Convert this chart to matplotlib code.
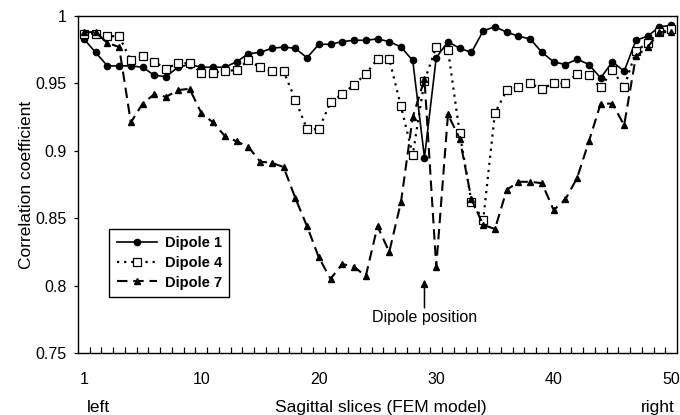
import numpy as np
import matplotlib

matplotlib.use("Agg")
import matplotlib.pyplot as plt

plt.rcParams["font.family"] = ["Liberation Sans", "DejaVu Sans"]

# slice index (51 sagittal slices, first labelled "1")
SLICES = list(range(51))

DIPOLE_1 = [0.983, 0.973, 0.963, 0.963, 0.963, 0.962, 0.956, 0.955, 0.962, 0.964,
            0.962, 0.962, 0.962, 0.966, 0.972, 0.973, 0.976, 0.977, 0.976, 0.969,
            0.979, 0.979, 0.981, 0.982, 0.982, 0.983, 0.981, 0.977, 0.967, 0.895,
            0.969, 0.981, 0.976, 0.973, 0.989, 0.992, 0.988, 0.985, 0.983, 0.973,
            0.966, 0.964, 0.968, 0.964, 0.954, 0.966, 0.959, 0.982, 0.985, 0.992,
            0.993]

DIPOLE_4 = [0.987, 0.987, 0.985, 0.985, 0.967, 0.970, 0.966, 0.961, 0.965, 0.965,
            0.958, 0.958, 0.959, 0.960, 0.967, 0.962, 0.959, 0.959, 0.938, 0.916,
            0.916, 0.936, 0.942, 0.949, 0.957, 0.968, 0.968, 0.933, 0.897, 0.952,
            0.977, 0.975, 0.913, 0.862, 0.849, 0.928, 0.945, 0.947, 0.950, 0.946,
            0.950, 0.950, 0.957, 0.956, 0.947, 0.960, 0.947, 0.974, 0.980, 0.988,
            0.990]

DIPOLE_7 = [0.988, 0.988, 0.980, 0.977, 0.921, 0.935, 0.942, 0.940, 0.945, 0.946,
            0.928, 0.921, 0.911, 0.907, 0.903, 0.892, 0.891, 0.888, 0.865, 0.844,
            0.821, 0.805, 0.816, 0.814, 0.807, 0.844, 0.825, 0.862, 0.925, 0.953,
            0.814, 0.927, 0.909, 0.864, 0.845, 0.842, 0.871, 0.877, 0.877, 0.876,
            0.856, 0.864, 0.880, 0.907, 0.935, 0.935, 0.919, 0.970, 0.977, 0.988,
            0.988]

X_TICKS = [0, 10, 20, 30, 40, 50]
X_TICK_LABELS = ["1", "10", "20", "30", "40", "50"]
Y_TICKS = [0.75, 0.8, 0.85, 0.9, 0.95, 1.0]
Y_TICK_LABELS = ["0.75", "0.8", "0.85", "0.9", "0.95", "1"]
DIPOLE_SLICE = 29

W, H = 680, 415
fig = plt.figure(figsize=(W / 100, H / 100), dpi=100)
ax = fig.add_axes([78 / W, 1 - 353 / H, (677 - 78) / W, (353 - 16) / H])

ax.plot(SLICES, DIPOLE_1, color="black", lw=1.2, marker="o", ms=4.5,
        label="Dipole 1")
ax.plot(SLICES, DIPOLE_4, color="black", lw=1.6, linestyle=(0, (1, 2.2)),
        marker="s", ms=5.5, mfc="white", mew=0.9, label="Dipole 4")
ax.plot(SLICES, DIPOLE_7, color="black", lw=1.5, linestyle=(0, (5, 2.8)),
        marker="^", ms=5, label="Dipole 7")

ax.set_xlim(-0.5, 50.5)
ax.set_ylim(0.75, 1.0)
ax.set_xticks(X_TICKS)
ax.set_xticklabels(X_TICK_LABELS)
ax.set_xticks(np.arange(0.5, 50.5, 1), minor=True)
ax.set_yticks(Y_TICKS)
ax.set_yticklabels(Y_TICK_LABELS)
ax.tick_params(axis="x", which="major", length=0, pad=14, labelsize=11.5)
ax.tick_params(axis="x", which="minor", direction="in", length=4, width=0.9)
ax.tick_params(axis="y", direction="out", length=3, width=0.9, pad=5,
               labelsize=11.5)
for sp in ax.spines.values():
    sp.set_linewidth(1.0)

ax.set_ylabel("Correlation coefficient", fontsize=12.5, labelpad=1)

# dipole position marker: arrow plus label
ax.annotate("", xy=(DIPOLE_SLICE, 0.8045), xytext=(DIPOLE_SLICE, 0.7835),
            arrowprops=dict(arrowstyle="-|>", color="black", lw=1.1,
                            mutation_scale=11, shrinkA=0, shrinkB=0))
ax.text(DIPOLE_SLICE, 0.7765, "Dipole position", ha="center", va="center",
        fontsize=11.5)

fig.text(98 / W, 1 - 407 / H, "left", ha="center", va="center", fontsize=12.5)
fig.text(381 / W, 1 - 407 / H, "Sagittal slices (FEM model)", ha="center",
         va="center", fontsize=12.5)
fig.text(658 / W, 1 - 407 / H, "right", ha="center", va="center",
         fontsize=12.5)

leg = ax.legend(loc="lower left", bbox_to_anchor=(0.04, 0.145),
                fancybox=False, framealpha=1, edgecolor="black",
                prop={"weight": "bold", "size": 10.5}, handlelength=2.8,
                labelspacing=0.4, borderpad=0.5, handletextpad=0.5)
leg.get_frame().set_linewidth(1.0)

fig.savefig("out.png", dpi=100)
